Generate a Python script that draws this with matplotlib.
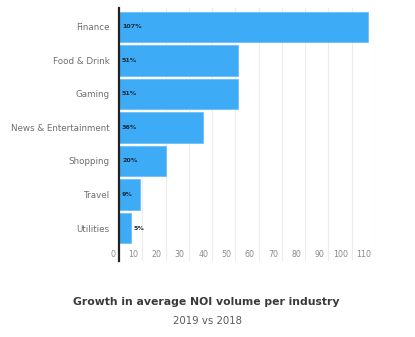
import matplotlib
matplotlib.use("Agg")
import matplotlib.pyplot as plt
import matplotlib.transforms as mtransforms

categories = ["Finance", "Food & Drink", "Gaming", "News & Entertainment",
              "Shopping", "Travel", "Utilities"]
values = [107, 51, 51, 36, 20, 9, 5]
value_labels = ["107%", "51%", "51%", "36%", "20%", "9%", "5%"]
x_ticks = [0, 10, 20, 30, 40, 50, 60, 70, 80, 90, 100, 110]
title = "Growth in average NOI volume per industry"
subtitle = "2019 vs 2018"

plt.rcParams['font.family'] = ['DejaVu Sans']

W, H = 415, 337
fig = plt.figure(figsize=(W / 100, H / 100), dpi=100)
ax = fig.add_axes([119 / W, (H - 261) / H, 256 / W, 253 / H])

bar_color = "#3DABF5"
ys = list(range(len(categories)))
ax.barh(ys, values, height=0.9, color=bar_color, edgecolor="#6cc0f8",
        linewidth=0.6, zorder=2)

ax.set_xlim(0, 110)
ax.set_ylim(6.985, -0.567)

for s in ["top", "right", "bottom"]:
    ax.spines[s].set_visible(False)
ax.spines["left"].set_color("#222222")
ax.spines["left"].set_linewidth(1.6)
ax.spines["left"].set_zorder(4)

# gridlines
for t in x_ticks[1:]:
    ax.axvline(t, color="#ececec", linewidth=0.8, zorder=1)

ax.set_xticks([])
ax.set_yticks(ys)
ax.set_yticklabels(categories, fontsize=6.3, color="#6e6e6e")
ax.tick_params(axis="y", length=0, pad=7)

# x tick labels inside axes area at bottom, right-aligned left of gridline
off = mtransforms.offset_copy(ax.transData, fig=fig, x=-4, y=0, units="dots")
for t in x_ticks:
    ax.text(t, 6.8, str(t), transform=off, ha="right", va="center",
            fontsize=5.7, color="#8a8a8a")

# value labels
lab_in = mtransforms.offset_copy(ax.transData, fig=fig, x=3, y=0, units="dots")
for y, v, lab in zip(ys, values, value_labels):
    if v >= 8:
        ax.text(0, y, lab, transform=lab_in, ha="left", va="center",
                fontsize=4.6, fontweight="bold", color="#1b2a3a", zorder=5)
    else:
        ax.text(v, y, lab, transform=lab_in, ha="left", va="center",
                fontsize=4.6, fontweight="bold", color="#1b2a3a", zorder=5)

fig.text(206 / W, 1 - 302 / H, title, ha="center", va="center",
         fontsize=7.8, fontweight="bold", color="#3a3a3a")
fig.text(207 / W, 1 - 321 / H, subtitle, ha="center", va="center",
         fontsize=7.3, color="#5a5a5a")

fig.savefig("out.png", dpi=100, facecolor="white")
